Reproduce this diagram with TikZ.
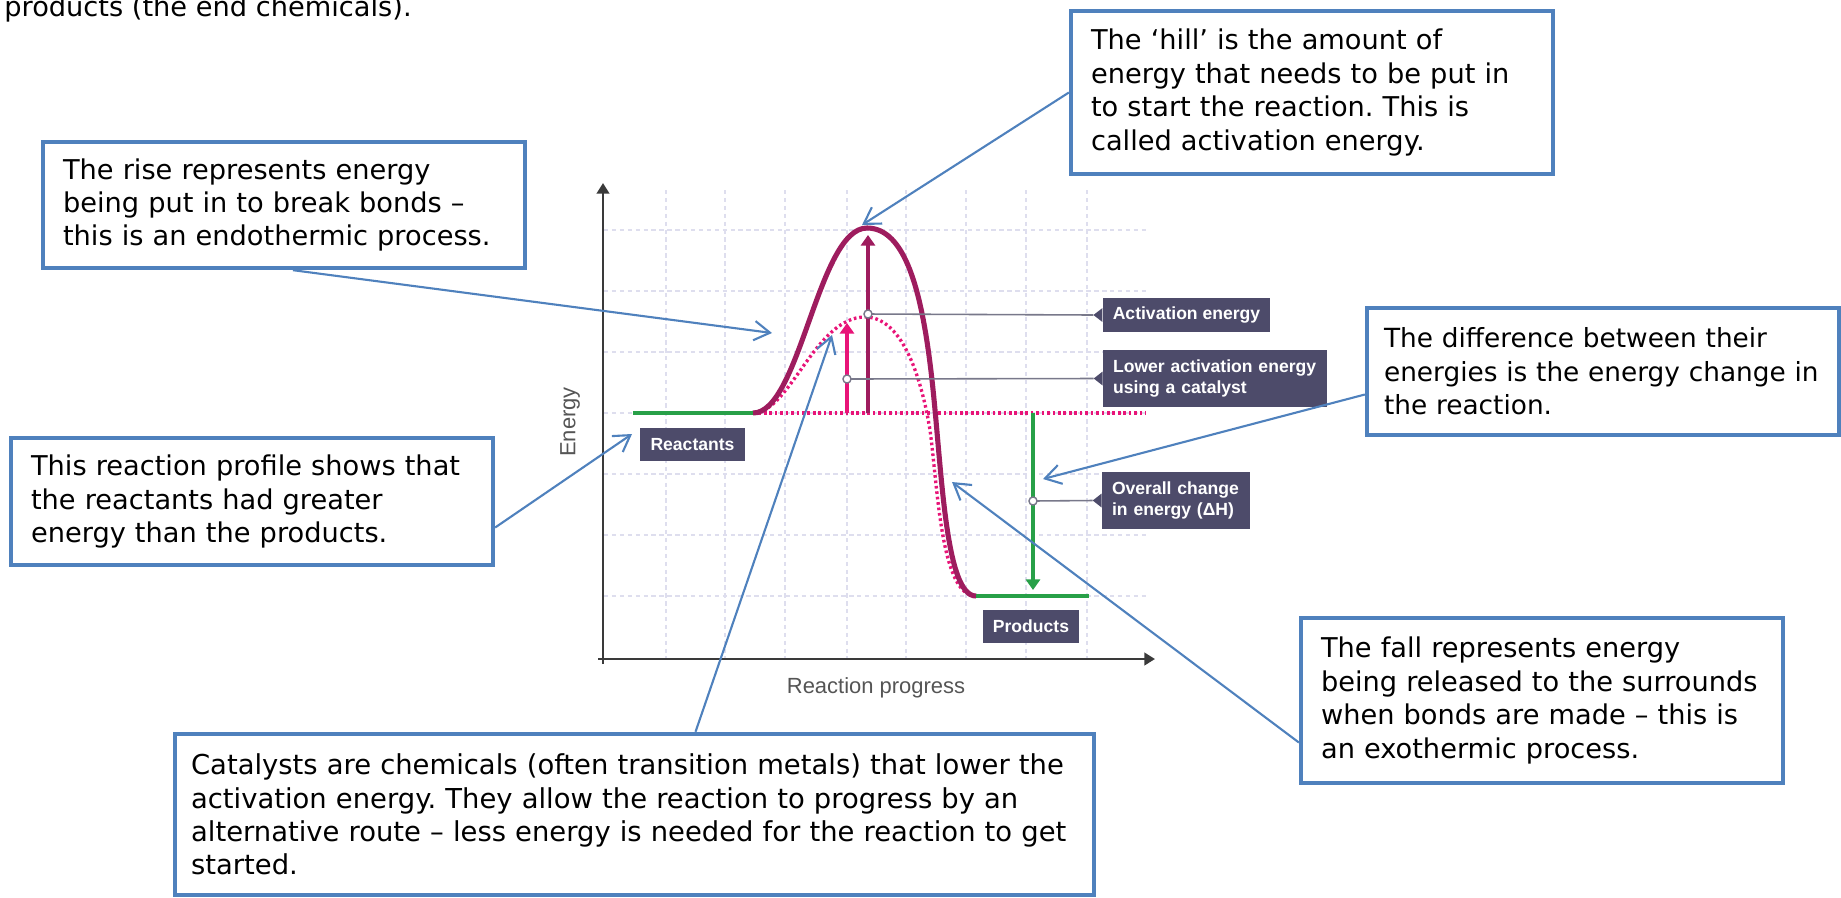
\documentclass[tikz,border=0pt]{standalone}
\usepackage{fontspec}
\setmainfont{DejaVu Sans}
\newfontfamily\chartfont{Liberation Sans}
\usetikzlibrary{arrows.meta,calc}
\frenchspacing

\definecolor{calloutblue}{RGB}{79,129,189}
\definecolor{hillred}{RGB}{158,28,94}
\definecolor{catpink}{RGB}{232,20,120}
\definecolor{levelgreen}{RGB}{40,160,72}
\definecolor{tagslate}{RGB}{77,75,106}
\definecolor{gridlilac}{RGB}{222,222,238}
\definecolor{axisgrey}{RGB}{58,58,58}
\definecolor{leadergrey}{RGB}{120,120,138}
\definecolor{labelgrey}{RGB}{85,85,85}

\begin{document}
\begin{tikzpicture}[x = 0.02cm, y = -0.02cm,
        notebox/.style = {draw = calloutblue, line width = 2.5pt, fill = white, align = left, inner xsep = 0.4cm, inner ysep = 0pt, font = {\fontsize{15.5}{19}\selectfont}},
        pointer/.style = {calloutblue, line width = 1.2pt, -{Straight Barb[length = 9pt, width = 11pt]}},
        tag/.style = {fill = tagslate, text = white, align = left, inner xsep = 0.2cm, inner ysep = 0pt, font = {\chartfont\bfseries\fontsize{10}{12.5}\selectfont}},
        gridline/.style = {gridlilac, line width = 0.6pt, dash pattern = on 2.5pt off 2pt},
        axisline/.style = {axisgrey, line width = 1.6pt, -{Triangle[length = 6pt, width = 7pt]}},
        levelline/.style = {levelgreen, line width = 2.8pt},
        leaderline/.style = {leadergrey, line width = 0.9pt},
        opendot/.style = {draw = leadergrey, fill = white, line width = 0.8pt},
        catdots/.style = {catpink, line width = 1.9pt, dash pattern = on 1.5pt off 1.6pt}]
        \useasboundingbox (0, 0) rectangle (1841, 897);
        \clip (0, 0) rectangle (1841, 897);

        \node[anchor = base west, inner sep = 0pt, font = {\fontsize{15.5}{19}\selectfont}] (toptext) at (4, 16) {products (the end chemicals).};

        \foreach \gx in {666, 725, 785, 847, 906, 966, 1026, 1087}
            \draw[gridline] (\gx, 190) -- (\gx, 659);
        \foreach \gy in {230, 291, 352, 413, 474, 535, 596}
            \draw[gridline] (604, \gy) -- (1147, \gy);

        \coordinate (origin) at (603, 659);
        \draw[axisline] (603, 664) -- (603, 183);
        \draw[axisline] (598, 659) -- (1155, 659);
        \node[rotate = 90, text = labelgrey, font = {\chartfont\fontsize{12.5}{15}\selectfont}] (energylabel) at (570, 422) {Energy};
        \node[text = labelgrey, font = {\chartfont\fontsize{12.5}{15}\selectfont}] (progresslabel) at (876, 688) {Reaction progress};

        \coordinate (start) at (753, 413);
        \coordinate (peak) at (867, 228);
        \coordinate (catpeak) at (865, 317);
        \coordinate (finish) at (976, 596);

        \draw[catdots] (start) -- (1146, 413);
        \draw[catdots] (start) .. controls (790, 413) and (815, 317) .. (catpeak)
            .. controls (900, 317) and (920, 370) .. (930, 430) .. controls (938, 490) and (941, 596) .. (finish);
        \draw[hillred, line width = 2.9pt] (start) .. controls (800, 413) and (818, 228) .. (peak)
            .. controls (905, 228) and (922, 290) .. (932, 380) .. controls (942, 470) and (945, 596) .. (finish);
        \draw[levelline] (633, 413) -- (start);
        \draw[levelline] (finish) -- (1089, 596);

        \coordinate (actdot) at (868, 314);
        \coordinate (catdot) at (847, 379);
        \coordinate (dhdot) at (1033, 501);
        \draw[hillred, line width = 2.3pt, -{Triangle[length = 6pt, width = 8pt]}] (868, 413) -- (868, 235);
        \draw[catpink, line width = 2.3pt, -{Triangle[length = 6pt, width = 8pt]}] (847, 413) -- (847, 323);
        \draw[levelgreen, line width = 2.3pt, -{Triangle[length = 6pt, width = 8pt]}] (1033, 413) -- (1033, 590);

        \node[tag, align = center, minimum width = 2.1cm, minimum height = 0.66cm] (reactants) at (692.5, 444.5) {Reactants};
        \node[tag, align = center, minimum width = 1.88cm, minimum height = 0.66cm] (products) at (1031, 626.5) {Products};
        \node[tag, align = center, minimum width = 3.34cm, minimum height = 0.68cm] (actlabel) at (1186.5, 315) {Activation energy};
        \node[tag, text width = 4.08cm, minimum height = 1.14cm] (catlabel) at (1215, 378.5) {Lower activation energy\\using a catalyst};
        \node[tag, text width = 2.56cm, minimum height = 1.14cm] (dhlabel) at (1176, 500.5) {Overall change\\in energy (ΔH)};

        \foreach \lbl in {actlabel, catlabel, dhlabel}
            \fill[tagslate] ($(\lbl.west) + (0, -7)$) -- ($(\lbl.west) + (-9, 0)$) -- ($(\lbl.west) + (0, 7)$) -- cycle;
        \draw[leaderline] (actdot) -- ($(actlabel.west) + (-9, 0)$);
        \draw[leaderline] (catdot) -- ($(catlabel.west) + (-9, 0)$);
        \draw[leaderline] (dhdot) -- ($(dhlabel.west) + (-9, 0)$);
        \draw[opendot] (actdot) circle (2.3pt);
        \draw[opendot] (catdot) circle (2.3pt);
        \draw[opendot] (dhdot) circle (2.3pt);

        \node[notebox, text width = 8.84cm, minimum height = 3.26cm] (hillbox) at (1312, 92.5) {The ‘hill’ is the amount of\\energy that needs to be put in\\to start the reaction. This is\\called activation energy.};
        \node[notebox, text width = 8.84cm, minimum height = 2.52cm] (risebox) at (284, 205) {The rise represents energy\\being put in to break bonds –\\this is an endothermic process.};
        \node[notebox, inner xsep = 0.34cm, text width = 8.76cm, minimum height = 2.54cm, font = {\fontsize{15}{19}\selectfont}] (diffbox) at (1603, 371.5) {The difference between their\\energies is the energy change in\\the reaction.};
        \node[notebox, text width = 8.84cm, minimum height = 2.54cm] (profilebox) at (252, 501.5) {This reaction profile shows that\\the reactants had greater\\energy than the products.};
        \node[notebox, text width = 8.84cm, minimum height = 3.3cm] (fallbox) at (1542, 700.5) {The fall represents energy\\being released to the surrounds\\when bonds are made – this is\\an exothermic process.};
        \node[notebox, inner xsep = 0.32cm, text width = 17.74cm, minimum height = 3.22cm, font = {\fontsize{15.6}{19}\selectfont}] (catbox) at (634.5, 814.5) {Catalysts are chemicals (often transition metals) that lower the\\activation energy. They allow the reaction to progress by an\\alternative route – less energy is needed for the reaction to get\\started.};

        \coordinate (hilltip) at (862, 225);
        \coordinate (risetip) at (772, 333);
        \coordinate (reacttip) at (632, 434);
        \coordinate (cattip) at (832, 335);
        \coordinate (dhtip) at (1043, 479);
        \coordinate (falltip) at (952, 482);
        \draw[pointer] (hillbox.west) -- (hilltip);
        \draw[pointer] ($(risebox.south) + (9, 0)$) -- (risetip);
        \draw[pointer] ($(profilebox.east) + (0, 26)$) -- (reacttip);
        \draw[pointer] ($(catbox.north) + (61, 0)$) -- (cattip);
        \draw[pointer] ($(diffbox.west) + (0, 23)$) -- (dhtip);
        \draw[pointer] ($(fallbox.west) + (0, 42)$) -- (falltip);
    \end{tikzpicture}
\end{document}
